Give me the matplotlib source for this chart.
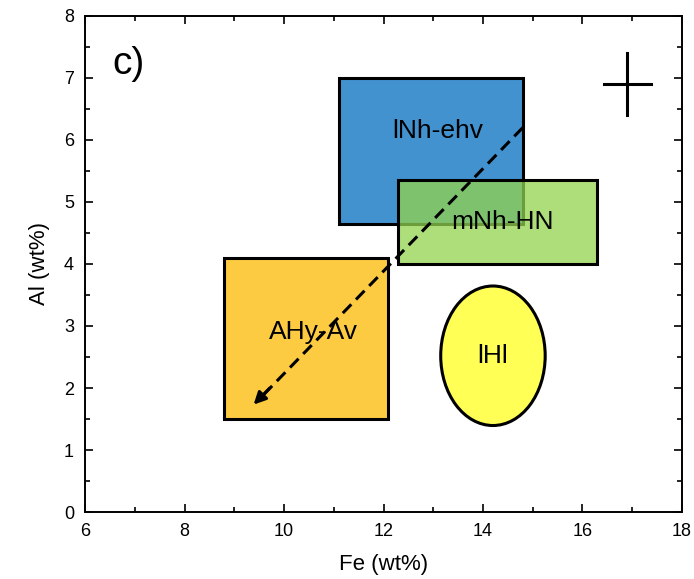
import matplotlib.pyplot as plt
from matplotlib.patches import Rectangle, Ellipse
from matplotlib.ticker import MultipleLocator

plt.rcParams['font.family'] = ['Liberation Sans', 'DejaVu Sans']

# Compositional fields (Fe, Al in wt%): x0, x1, y0, y1
box_names = ['AHy-Av', 'lNh-ehv', 'mNh-HN']
box_x0 = [8.8, 11.1, 12.3]
box_x1 = [12.1, 14.8, 16.3]
box_y0 = [1.5, 4.65, 4.0]
box_y1 = [4.1, 7.0, 5.35]
box_colors = ['#fdcb42', '#4292cf', '#93d34e']
box_alpha = [1.0, 1.0, 0.75]
box_label_x = [10.6, 13.1, 14.4]
box_label_y = [2.9, 6.15, 4.68]

# Ellipse field
ell_name = 'lHl'
ell_center = (14.2, 2.52)
ell_width = 2.1
ell_height = 2.25

# Trend arrow
trend_start = (14.8, 6.2)
trend_end = (9.35, 1.7)

# Error cross
err_center = (16.9, 6.9)
err_x = 0.47
err_y = 0.5

fig = plt.figure(figsize=(6.94, 5.79), dpi=100)
ax = fig.add_axes([0.1225, 0.1157, 0.8602, 0.8567])

for name, x0, x1, y0, y1, c, a in zip(box_names, box_x0, box_x1, box_y0, box_y1,
                                        box_colors, box_alpha):
    ax.add_patch(Rectangle((x0, y0), x1 - x0, y1 - y0, facecolor=c, alpha=a,
                           edgecolor='none', zorder=2))
    ax.add_patch(Rectangle((x0, y0), x1 - x0, y1 - y0, facecolor='none',
                           edgecolor='black', linewidth=2.2, zorder=2))

ax.add_patch(Ellipse(ell_center, ell_width, ell_height, facecolor='#ffff55',
                     edgecolor='black', linewidth=2.2, zorder=2))

for name, lx, ly in zip(box_names, box_label_x, box_label_y):
    ax.text(lx, ly, name, fontsize=19, ha='center', va='center', zorder=4)
ax.text(ell_center[0], ell_center[1], ell_name, fontsize=19, ha='center',
        va='center', zorder=4)

# dashed trend line with solid head
ax.plot([trend_start[0], trend_end[0] + 0.25], [trend_start[1], trend_end[1] + 0.2],
        color='black', linestyle=(0, (4, 2.2)), linewidth=2.2, zorder=3)
ax.annotate('', xy=trend_end, xytext=(trend_end[0] + 0.4, trend_end[1] + 0.33),
            arrowprops=dict(arrowstyle='-|>', color='black', lw=2.2,
                            mutation_scale=18), zorder=3)

ax.plot([err_center[0] - err_x, err_center[0] + err_x], [err_center[1]] * 2,
        color='black', linewidth=2.2)
ax.plot([err_center[0]] * 2, [err_center[1] - err_y, err_center[1] + err_y],
        color='black', linewidth=2.2)

ax.text(6.87, 7.23, 'c)', fontsize=28, ha='center', va='center')

ax.set_xlim(6, 18)
ax.set_ylim(0, 8)
ax.xaxis.set_major_locator(MultipleLocator(2))
ax.xaxis.set_minor_locator(MultipleLocator(1))
ax.yaxis.set_major_locator(MultipleLocator(1))
ax.yaxis.set_minor_locator(MultipleLocator(0.5))
ax.tick_params(which='both', direction='in', top=True, right=True, width=1.2,
               labelsize=13, pad=8)
ax.tick_params(which='major', length=6)
ax.tick_params(which='minor', length=3.5)
for s in ax.spines.values():
    s.set_linewidth(1.4)

ax.set_xlabel('Fe (wt%)', fontsize=16, labelpad=10)
ax.set_ylabel('Al (wt%)', fontsize=16, labelpad=10)

fig.savefig('out.png', dpi=100)
